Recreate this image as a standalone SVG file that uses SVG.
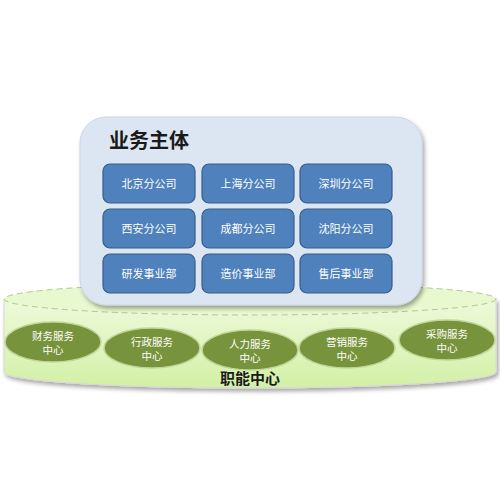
<svg xmlns="http://www.w3.org/2000/svg" width="500" height="500" viewBox="0 0 500 500">
<defs>
<linearGradient id="cyl" x1="0" y1="0" x2="0" y2="1">
<stop offset="0" stop-color="#eefadb"/>
<stop offset="1" stop-color="#d2f0a6"/>
</linearGradient>
<filter id="sh" x="-10%" y="-10%" width="120%" height="130%">
<feDropShadow dx="2" dy="3" stdDeviation="2" flood-color="#000" flood-opacity="0.35"/>
</filter>
<style>
.box{fill:#4f81bd;stroke:#385d8a;stroke-width:1.2}
.bt{font-family:"Noto Sans CJK SC",sans-serif;font-size:11px;fill:#ffffff;text-anchor:middle}
.oval{fill:#77933c;stroke:#c3d69b;stroke-width:1.5}
.ot{font-family:"Noto Sans CJK SC",serif;font-size:10.5px;fill:#ffffff;text-anchor:middle}
</style>
</defs>
<rect width="500" height="500" fill="#ffffff"/>
<g id="cylinder">
<path d="M4,299 L4,372 A246,16 0 0 0 496,372 L496,299 Z" fill="url(#cyl)" stroke="#d8d8d8" stroke-width="1" filter="url(#sh)"/>
<ellipse cx="250" cy="299" rx="246" ry="16" fill="#e8f8cf" stroke="#b0c890" stroke-width="1" stroke-dasharray="6,4"/>
<text x="250" y="384" font-family="Noto Sans CJK SC,sans-serif" font-size="15" font-weight="bold" fill="#1a1a1a" text-anchor="middle">职能中心</text>
</g>
<g id="main">
<rect x="80" y="117" width="342" height="188" rx="26" fill="#dce6f2" stroke="#ccd6e4" stroke-width="1" filter="url(#sh)"/>
<text x="109" y="148" font-family="Noto Sans CJK SC,sans-serif" font-size="20" font-weight="bold" fill="#1a1a1a">业务主体</text>
</g>
<g id="n1"><rect class="box" x="103" y="164" width="92" height="39" rx="7"/><text class="bt" x="149" y="188">北京分公司</text></g>
<g id="n2"><rect class="box" x="202" y="164" width="92" height="39" rx="7"/><text class="bt" x="248" y="188">上海分公司</text></g>
<g id="n3"><rect class="box" x="300" y="164" width="92" height="39" rx="7"/><text class="bt" x="346" y="188">深圳分公司</text></g>
<g id="n4"><rect class="box" x="103" y="209" width="92" height="39" rx="7"/><text class="bt" x="149" y="233">西安分公司</text></g>
<g id="n5"><rect class="box" x="202" y="209" width="92" height="39" rx="7"/><text class="bt" x="248" y="233">成都分公司</text></g>
<g id="n6"><rect class="box" x="300" y="209" width="92" height="39" rx="7"/><text class="bt" x="346" y="233">沈阳分公司</text></g>
<g id="n7"><rect class="box" x="103" y="254" width="92" height="39" rx="7"/><text class="bt" x="149" y="278">研发事业部</text></g>
<g id="n8"><rect class="box" x="202" y="254" width="92" height="39" rx="7"/><text class="bt" x="248" y="278">造价事业部</text></g>
<g id="n9"><rect class="box" x="300" y="254" width="92" height="39" rx="7"/><text class="bt" x="346" y="278">售后事业部</text></g>
<g id="c1"><ellipse class="oval" cx="53" cy="342" rx="48" ry="20"/><text class="ot" x="53" y="340">财务服务</text><text class="ot" x="53" y="354">中心</text></g>
<g id="c2"><ellipse class="oval" cx="152" cy="348" rx="48" ry="20"/><text class="ot" x="152" y="346">行政服务</text><text class="ot" x="152" y="360">中心</text></g>
<g id="c3"><ellipse class="oval" cx="250" cy="350" rx="48" ry="20"/><text class="ot" x="250" y="348">人力服务</text><text class="ot" x="250" y="362">中心</text></g>
<g id="c4"><ellipse class="oval" cx="347" cy="348" rx="48" ry="20"/><text class="ot" x="347" y="346">营销服务</text><text class="ot" x="347" y="360">中心</text></g>
<g id="c5"><ellipse class="oval" cx="447" cy="340" rx="48" ry="20"/><text class="ot" x="447" y="338">采购服务</text><text class="ot" x="447" y="352">中心</text></g>
<g id="connectors"></g>
</svg>
